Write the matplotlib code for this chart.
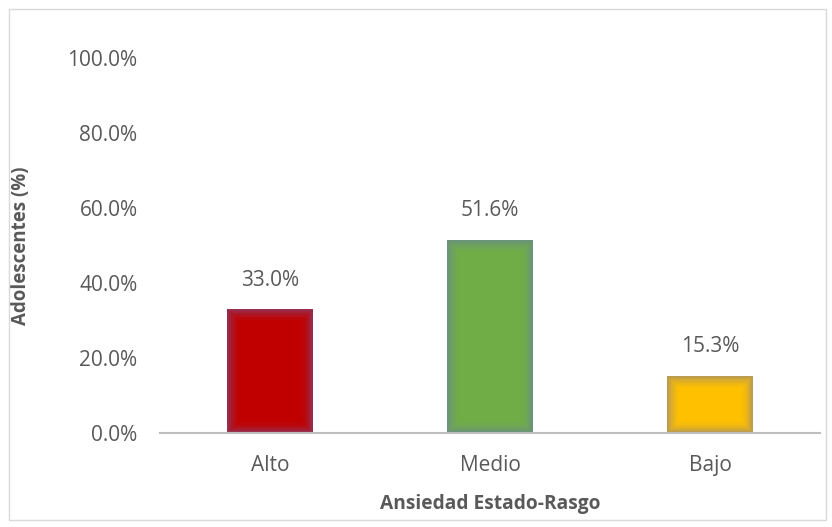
import matplotlib.pyplot as plt
from matplotlib.patches import Rectangle

categorias = ['Alto', 'Medio', 'Bajo']
porcentajes = [33.0, 51.6, 15.3]
colores = ['#c00000', '#70ad47', '#ffc000']
yticks = [0, 20, 40, 60, 80, 100]

plt.rcParams['font.family'] = ['Open Sans', 'DejaVu Sans']
gris = '#595959'

fig = plt.figure(figsize=(8.32, 5.27), dpi=100)
ax = fig.add_axes([0.192, 0.178, 0.794, 0.712])

x = range(len(categorias))
bars = ax.bar(x, porcentajes, width=0.39, color=colores, zorder=2)

# soft bluish glow along the inside of each bar
for b in bars:
    for lw, a in [(16, 0.05), (12, 0.07), (9, 0.09), (6, 0.12), (3, 0.18)]:
        r = Rectangle(b.get_xy(), b.get_width(), b.get_height(), fill=False,
                      edgecolor=(0.4, 0.45, 0.75, a), linewidth=lw, zorder=3)
        ax.add_patch(r)
        r.set_clip_path(b)

for xi, v in zip(x, porcentajes):
    ax.annotate(f'{v:.1f}%', (xi, v), xytext=(0, 21), textcoords='offset points',
                ha='center', va='center', fontsize=15, color=gris)

ax.set_xlim(-0.5, 2.5)
ax.set_ylim(0, 100)
ax.set_yticks(yticks)
ax.set_yticklabels([f'{t:.1f}%' for t in yticks])
ax.set_xticks(list(x))
ax.set_xticklabels(categorias)
ax.tick_params(length=0, labelsize=15, labelcolor=gris)
ax.tick_params(axis='x', pad=16)
ax.tick_params(axis='y', pad=16)

for s in ['top', 'right', 'left']:
    ax.spines[s].set_visible(False)
ax.spines['bottom'].set_color('#bfbfbf')
ax.spines['bottom'].set_linewidth(1.5)
ax.spines['bottom'].set_zorder(4)

ax.set_ylabel('Adolescentes (%)', fontsize=13.5, fontweight='bold', color=gris, labelpad=26)
ax.set_xlabel('Ansiedad Estado-Rasgo', fontsize=13.8, fontweight='bold', color=gris, labelpad=13)

fig.patches.append(Rectangle((9 / 832, 7 / 527), 817 / 832, 511 / 527, fill=False,
                             edgecolor='#d9d9d9', linewidth=1, transform=fig.transFigure))

fig.savefig('out.png', dpi=100)
